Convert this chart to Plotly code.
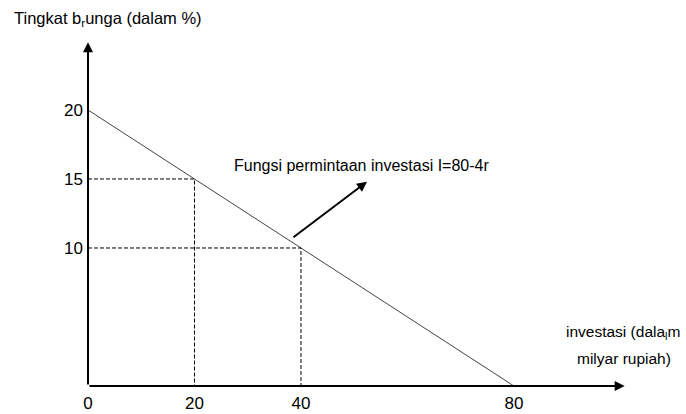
import plotly.graph_objects as go

# Data: investment demand I = 80 - 4r
rate_line = [20, 0]          # interest rate (%) at line ends
inv_line = [0, 80]           # investment at line ends
rate_marks = [15, 10]        # interest rates highlighted
inv_marks = [20, 40]         # corresponding investment
x_ticks = [0, 20, 40, 80]
y_ticks = [10, 15, 20]

FONT = "Liberation Sans, Arial, sans-serif"

fig = go.Figure()

# demand line
fig.add_trace(go.Scatter(x=inv_line, y=rate_line, mode="lines",
                         line=dict(color="#444444", width=1), hoverinfo="skip",
                         showlegend=False, cliponaxis=False))

# dashed guides
for r, i in zip(rate_marks, inv_marks):
    fig.add_trace(go.Scatter(x=[0, i, i], y=[r, r, 0], mode="lines",
                             line=dict(color="black", width=1, dash="4px,2px"),
                             hoverinfo="skip", showlegend=False, cliponaxis=False))

x_max = 101.8
y_max = 25.07

annotations = [
    # x axis arrow
    dict(x=100.8, y=0, ax=0, ay=0, xref="x", yref="y", axref="x", ayref="y",
         showarrow=True, arrowhead=2, arrowsize=1, arrowwidth=2, arrowcolor="black", text=""),
    # y axis arrow
    dict(x=0, y=24.9, ax=0, ay=0, xref="x", yref="y", axref="x", ayref="y",
         showarrow=True, arrowhead=2, arrowsize=1, arrowwidth=2, arrowcolor="black", text=""),
    # pointer arrow
    dict(x=52.4, y=14.8, ax=38.3, ay=10.7, xref="x", yref="y", axref="x", ayref="y",
         showarrow=True, arrowhead=2, arrowsize=1, arrowwidth=2, arrowcolor="black", text=""),
    dict(x=232, y=165, xref="paper", yref="paper", text="Fungsi permintaan investasi I=80-4r",
         showarrow=False, xanchor="left", yanchor="middle",
         font=dict(family=FONT, size=16, color="black")),
    dict(x=12, y=19, xref="paper", yref="paper", text="Tingkat b<sub>r</sub>unga (dalam %)",
         showarrow=False, xanchor="left", yanchor="middle",
         font=dict(family=FONT, size=16.5, color="black")),
    dict(x=623, y=332, xref="paper", yref="paper",
         text="investasi (dala<sub>l</sub>m",
         showarrow=False, xanchor="center", yanchor="middle",
         font=dict(family=FONT, size=15.5, color="black")),
    dict(x=624, y=358, xref="paper", yref="paper",
         text="milyar rupiah)",
         showarrow=False, xanchor="center", yanchor="middle",
         font=dict(family=FONT, size=15.5, color="black")),
]

# convert pixel-positioned text annotations to paper coords
L, R, T, B = 88, 56, 40, 28
W, H = 686, 414
pw, ph = W - L - R, H - T - B
for a in annotations:
    if a.get("xref") == "paper":
        a["x"] = (a["x"] - L) / pw
        a["y"] = (H - B - a["y"]) / ph

fig.update_layout(
    width=W, height=H, autosize=False,
    margin=dict(l=L, r=R, t=T, b=B, autoexpand=False),
    paper_bgcolor="white", plot_bgcolor="white",
    annotations=annotations,
    xaxis=dict(range=[0, x_max], showgrid=False, zeroline=False, showline=False,
               tickvals=x_ticks, ticktext=[str(v) for v in x_ticks],
               ticks="", ticklabelstandoff=5, automargin=False,
               tickfont=dict(family=FONT, size=17, color="black")),
    yaxis=dict(range=[0, y_max], showgrid=False, zeroline=False, showline=False,
               tickvals=y_ticks, ticktext=[str(v) for v in y_ticks],
               ticks="", ticklabelstandoff=4, automargin=False,
               tickfont=dict(family=FONT, size=17, color="black")),
)

fig.write_html("out.html", config={"displayModeBar": False},
               post_script="document.body.style.margin='0px';")
